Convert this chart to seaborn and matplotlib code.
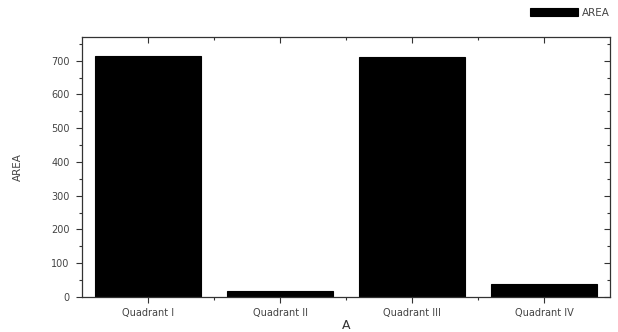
import matplotlib
matplotlib.use("Agg")
import pandas as pd
import matplotlib.pyplot as plt
import seaborn as sns
from matplotlib.ticker import MultipleLocator, FixedLocator

# DATA

quadrants = ["Quadrant I", "Quadrant II", "Quadrant III", "Quadrant IV"]
area = [715, 18, 712, 39]

df = pd.DataFrame({
    "Quadrant": quadrants,
    "AREA": area
})

# STYLE

sns.set_style("white")
plt.rcParams["font.family"] = ["DejaVu Sans"]

fig = plt.figure(figsize=(6.18, 3.32), dpi=100)
ax = fig.add_axes([0.1327, 0.1054, 0.8546, 0.7832])

sns.barplot(
    data=df,
    x="Quadrant",
    y="AREA",
    color="black",
    width=0.8,
    edgecolor="black",
    linewidth=0.8,
    label="AREA",
    ax=ax
)

ax.set_xlim(-0.5, 3.5)
ax.set_ylim(0, 770)

# ticks: left/bottom outward, top/right inward
ax.yaxis.set_major_locator(MultipleLocator(100))
ax.yaxis.set_minor_locator(MultipleLocator(50))
ax.xaxis.set_minor_locator(FixedLocator([0.5, 1.5, 2.5]))

ax.tick_params(axis="both", which="major", labelsize=7, length=4,
               width=0.8, color="#333333", labelcolor="#444444")
ax.tick_params(axis="both", which="minor", length=2.5, width=0.8,
               color="#333333")
ax.tick_params(axis="x", which="both", bottom=True, top=True,
               direction="out", pad=4)
ax.tick_params(axis="y", which="both", left=True, right=True,
               direction="out", pad=5)

# inward ticks on top and right
for line in ax.xaxis.get_ticklines(minor=False)[1::2]:
    line.set_marker(3)
for line in ax.xaxis.get_ticklines(minor=True)[1::2]:
    line.set_marker(3)
for line in ax.yaxis.get_ticklines(minor=False)[1::2]:
    line.set_marker(0)
for line in ax.yaxis.get_ticklines(minor=True)[1::2]:
    line.set_marker(0)

for spine in ax.spines.values():
    spine.set_linewidth(0.9)
    spine.set_color("#333333")

ax.set_ylabel("AREA", fontsize=7.5, color="#444444", labelpad=20)
ax.set_xlabel("A", fontsize=9, color="#333333")
ax.xaxis.set_label_coords(0.5, -0.085)

ax.legend(
    loc="center right",
    bbox_to_anchor=(1.0, 1.092),
    frameon=False,
    fontsize=7.5,
    handlelength=4.6,
    handleheight=0.8,
    handletextpad=0.4,
    borderaxespad=0.0,
    borderpad=0.0,
    labelcolor="#444444"
)

fig.savefig("out.png", dpi=100)
